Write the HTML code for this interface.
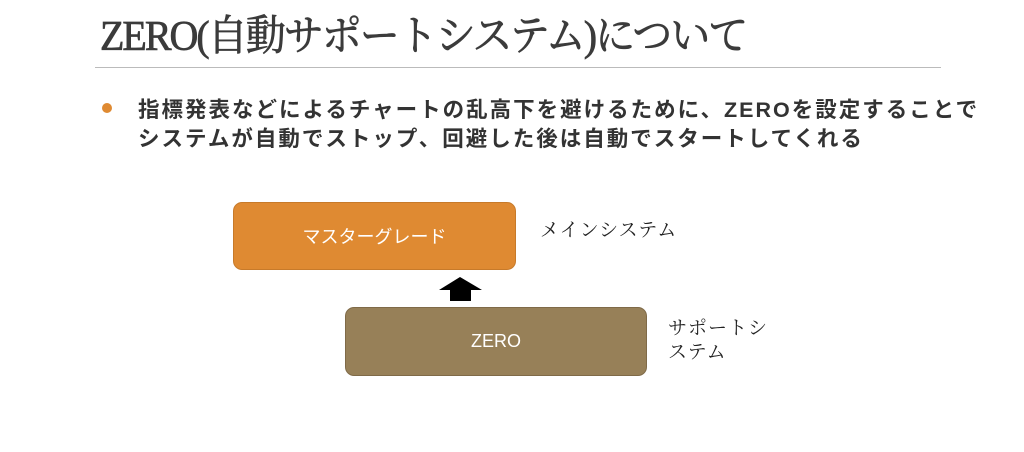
<!DOCTYPE html>
<html><head><meta charset="utf-8"><style>
body{margin:0;width:1024px;height:452px;background:#fff;position:relative;overflow:hidden}
.a{position:absolute;white-space:nowrap}
.t{left:100px;top:4px;font-family:"Liberation Serif","Noto Serif CJK SC",serif;font-size:40px;color:#3b3b3b;letter-spacing:-2px;-webkit-text-stroke:0.7px #3b3b3b;transform:scaleY(1.05)}
.s{font-family:"Liberation Sans","Noto Sans CJK JP",sans-serif;font-size:21.5px;font-weight:bold;color:#333;left:138px;letter-spacing:2px}
.box{position:absolute;border-radius:9px;color:#fff;font-family:"Liberation Sans","Noto Sans CJK JP",sans-serif;font-size:18px;display:flex;align-items:center;justify-content:center}
.l{font-family:"Liberation Serif","Noto Serif CJK SC",serif;font-size:19px;color:#222;letter-spacing:1px}
</style></head><body>
<div class="a t">ZERO(自動サポートシステム)について</div>
<div class="a" style="left:95px;top:67px;width:846px;height:1px;background:#bbb"></div>
<div class="a" style="left:102px;top:103px;width:10px;height:10px;border-radius:50%;background:#df8a32"></div>
<div class="a s" style="top:93px">指標発表などによるチャートの乱高下を避けるために、ZEROを設定することで</div>
<div class="a s" style="top:122px">システムが自動でストップ、回避した後は自動でスタートしてくれる</div>
<div class="box" style="left:233px;top:202px;width:281px;height:66px;background:#df8a32;border:1px solid #c77a2a">マスターグレード</div>
<div class="box" style="left:345px;top:307px;width:300px;height:67px;background:#978058;border:1px solid #7f6a48">ZERO</div>
<svg class="a" style="left:0;top:0" width="1024" height="452"><polygon points="460,277 482,290 471,290 471,301 450,301 450,290 439,290" fill="#000"/></svg>
<div class="a l" style="left:540px;top:215px">メインシステム</div>
<div class="a l" style="left:668px;top:313px">サポートシ</div>
<div class="a l" style="left:668px;top:337px">ステム</div>
</body></html>
